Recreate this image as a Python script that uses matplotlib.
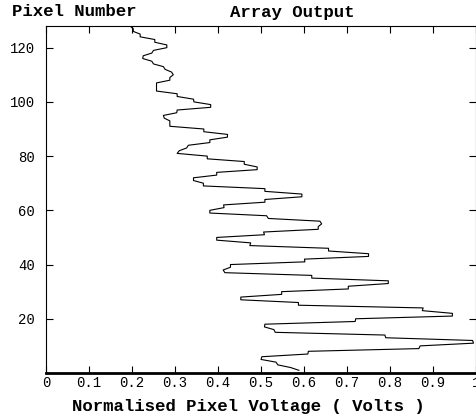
import matplotlib
matplotlib.use("Agg")
import matplotlib.pyplot as plt
import numpy as np

pixel_voltage = [
    0.588, 0.569, 0.539, 0.535, 0.500, 0.502,
    0.609, 0.610, 0.867, 0.870, 0.994, 0.992, 0.790, 0.788,
    0.533, 0.530, 0.508, 0.509, 0.719, 0.720, 0.945, 0.945,
    0.875, 0.877, 0.587, 0.587, 0.453, 0.453, 0.548, 0.548,
    0.703, 0.703, 0.796, 0.796, 0.618, 0.618, 0.416, 0.412,
    0.429, 0.429, 0.602, 0.601, 0.750, 0.750, 0.657, 0.657,
    0.474, 0.476, 0.397, 0.397, 0.508, 0.506, 0.633, 0.633,
    0.641, 0.637, 0.517, 0.513, 0.381, 0.381, 0.414, 0.413,
    0.509, 0.509, 0.595, 0.595, 0.509, 0.509, 0.366, 0.366,
    0.343, 0.343, 0.397, 0.397, 0.491, 0.491, 0.461, 0.461,
    0.375, 0.375, 0.305, 0.310, 0.327, 0.331, 0.381, 0.381,
    0.422, 0.422, 0.367, 0.367, 0.288, 0.288, 0.288, 0.275,
    0.273, 0.304, 0.305, 0.383, 0.383, 0.344, 0.343, 0.305,
    0.305, 0.257, 0.257, 0.257, 0.257, 0.288, 0.288, 0.296,
    0.292, 0.277, 0.273, 0.250, 0.246, 0.225, 0.226, 0.246,
    0.250, 0.281, 0.281, 0.253, 0.253, 0.219, 0.219, 0.203,
    0.203, 0.195,
]
pixel_number = np.arange(1, len(pixel_voltage) + 1)

x_ticks = [0, 0.1, 0.2, 0.3, 0.4, 0.5, 0.6, 0.7, 0.8, 0.9, 1]
x_tick_labels = ["0", "0.1", "0.2", "0.3", "0.4", "0.5", "0.6", "0.7", "0.8", "0.9", "1"]
y_ticks = [20, 40, 60, 80, 100, 120]

mono = "Liberation Mono"

fig = plt.figure(figsize=(4.77, 4.19), dpi=100)
ax = fig.add_axes([0.0964, 0.1098, 0.9016, 0.8282])
ax.plot(pixel_voltage, pixel_number, color="black", linewidth=0.8)
ax.set_xlim(0, 1)
ax.set_ylim(0, 128)
ax.set_xticks(x_ticks)
ax.set_xticklabels(x_tick_labels)
ax.set_yticks(y_ticks)
for lab in ax.get_xticklabels() + ax.get_yticklabels():
    lab.set_fontfamily(mono)
    lab.set_fontsize(10)
ax.tick_params(axis="x", direction="in", top=True, length=5, width=0.8, pad=2)
ax.tick_params(axis="y", direction="in", right=True, length=5, width=0.8, pad=8)
for s in ["left", "top", "right"]:
    ax.spines[s].set_linewidth(0.8)
ax.spines["bottom"].set_linewidth(2.0)

fig.text(12 / 477, 1 - 12 / 419, "Pixel Number", family=mono, weight="bold",
         fontsize=12.5, ha="left", va="center")
fig.text(292 / 477, 1 - 12 / 419, "Array Output", family=mono, weight="bold",
         fontsize=12.5, ha="center", va="center")
fig.text(248 / 477, 1 - 406 / 419, "Normalised Pixel Voltage ( Volts )", family=mono,
         weight="bold", fontsize=12.5, ha="center", va="center")

fig.savefig("out.png", dpi=100)
